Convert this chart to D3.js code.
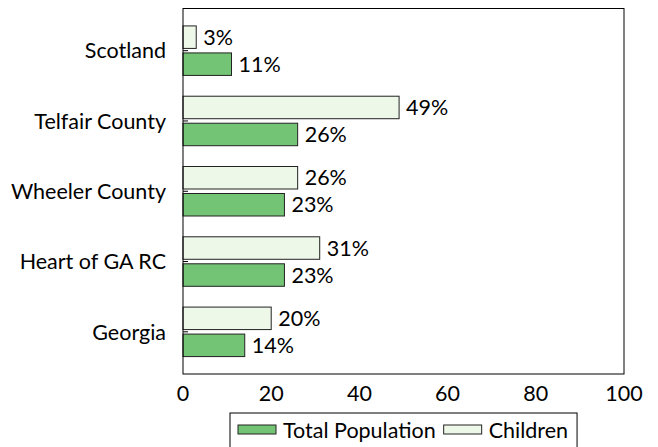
<!DOCTYPE html>
<html>
<head>
<meta charset="utf-8">
<script src="https://cdn.jsdelivr.net/npm/d3@7"></script>
<style>
  body { margin: 0; background: #fff; }
  text { font-family: Lato, sans-serif; fill: #000; }
</style>
</head>
<body>
<script>
const regions = ['Scotland', 'Telfair County', 'Wheeler County', 'Heart of GA RC', 'Georgia']
const total_population = [11, 26, 23, 23, 14]
const children = [3, 49, 26, 31, 20]
const x_ticks = [0, 20, 40, 60, 80, 100]

const margin = { left: 183, right: 624, top: 8.5, bottom: 374 }
const bar_height = 22.5
const bar_offset = 13.5
const font_size = 21.5

const x = d3.scaleLinear().domain([0, 100]).range([margin.left, margin.right]);
const y = d3.scalePoint().domain(regions).range([margin.top, margin.bottom]).padding(0.6);

var svg = d3.select("body")
            .append("svg")
            .attr("width", 658)
            .attr("height", 447);

// children bars (upper)
svg.selectAll("rect.children")
   .data(children)
   .enter()
   .append("rect")
   .attr("class", "children")
   .attr("x", x(0))
   .attr("y", (d, i) => y(regions[i]) - bar_offset - bar_height / 2)
   .attr("width", (d) => x(d) - x(0))
   .attr("height", bar_height)
   .attr("fill", "#edf8e9")
   .attr("stroke", "#222")
   .attr("stroke-width", 1);

// total population bars (lower)
svg.selectAll("rect.total")
   .data(total_population)
   .enter()
   .append("rect")
   .attr("class", "total")
   .attr("x", x(0))
   .attr("y", (d, i) => y(regions[i]) + bar_offset - bar_height / 2)
   .attr("width", (d) => x(d) - x(0))
   .attr("height", bar_height)
   .attr("fill", "#74c476")
   .attr("stroke", "#222")
   .attr("stroke-width", 1);

svg.selectAll("text.children")
   .data(children)
   .enter()
   .append("text")
   .attr("class", "children")
   .attr("font-size", font_size)
   .attr("x", (d) => x(d) + 7)
   .attr("y", (d, i) => y(regions[i]) - bar_offset)
   .attr("dy", "0.36em")
   .text((d) => d + "%");

svg.selectAll("text.total")
   .data(total_population)
   .enter()
   .append("text")
   .attr("class", "total")
   .attr("font-size", font_size)
   .attr("x", (d) => x(d) + 7)
   .attr("y", (d, i) => y(regions[i]) + bar_offset)
   .attr("dy", "0.36em")
   .text((d) => d + "%");

// axis frame
svg.append("rect")
   .attr("x", margin.left)
   .attr("y", margin.top)
   .attr("width", margin.right - margin.left)
   .attr("height", margin.bottom - margin.top)
   .attr("fill", "none")
   .attr("stroke", "#000")
   .attr("stroke-width", 1);

// y ticks and labels
svg.selectAll("line.ytick")
   .data(regions)
   .enter()
   .append("line")
   .attr("class", "ytick")
   .attr("x1", margin.left)
   .attr("x2", margin.left + 5)
   .attr("y1", (d) => y(d))
   .attr("y2", (d) => y(d))
   .attr("stroke", "#000");

svg.selectAll("text.ylabel")
   .data(regions)
   .enter()
   .append("text")
   .attr("class", "ylabel")
   .attr("font-size", font_size)
   .attr("text-anchor", "end")
   .attr("x", 166)
   .attr("y", (d) => y(d))
   .attr("dy", "0.36em")
   .text((d) => d);

svg.selectAll("text.xlabel")
   .data(x_ticks)
   .enter()
   .append("text")
   .attr("class", "xlabel")
   .attr("font-size", font_size)
   .attr("text-anchor", "middle")
   .attr("x", (d) => x(d))
   .attr("y", 393)
   .attr("dy", "0.36em")
   .text((d) => d);

// legend
const legend = svg.append("g");
const legend_box = legend.append("rect")
   .attr("x", 230).attr("y", 413)
   .attr("height", 40)
   .attr("fill", "#fff").attr("stroke", "#000");

const legend_items = [
  { label: 'Total Population', fill: '#74c476' },
  { label: 'Children', fill: '#edf8e9' }
];

let lx = 238;
legend_items.forEach((item) => {
  legend.append("rect")
     .attr("x", lx)
     .attr("y", 425)
     .attr("width", 38)
     .attr("height", 9)
     .attr("fill", item.fill)
     .attr("stroke", "#222");
  const t = legend.append("text")
     .attr("font-size", font_size)
     .attr("x", lx + 45)
     .attr("y", 430)
     .attr("dy", "0.36em")
     .text(item.label);
  lx += 45 + t.node().getComputedTextLength() + 8;
});
legend_box.attr("width", lx + 1 - 230);
</script>
</body>
</html>
